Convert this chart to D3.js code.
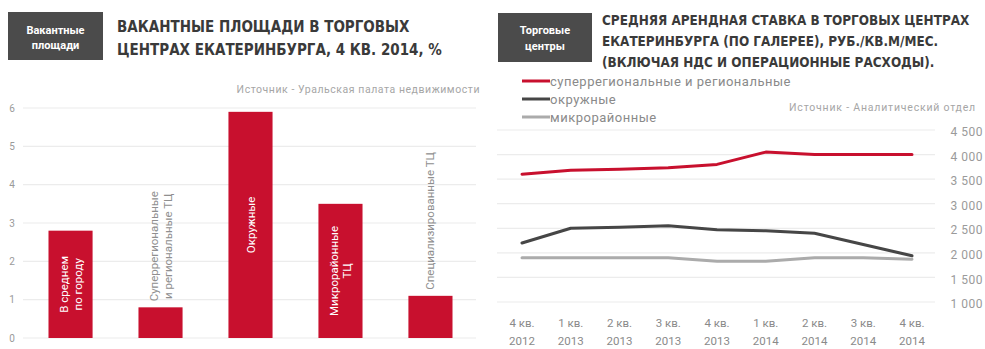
<!DOCTYPE html>
<html lang="ru">
<head>
<meta charset="utf-8">
<script src="https://cdn.jsdelivr.net/npm/d3@7"></script>
<style>
  html, body { margin: 0; padding: 0; background: #fff; }
  svg { display: block; }
  .ttl { font-family: "DejaVu Sans Condensed", "DejaVu Sans", sans-serif; font-weight: bold; fill: #3a3a3a; }
  .txt { font-family: Roboto, "Open Sans", sans-serif; }
</style>
</head>
<body>
<svg id="chart" width="985" height="349"></svg>
<script>
// ---- Vacancy in shopping centres, Q4 2014, %
const vacancyCategories = ["avg", "super", "district", "micro", "special"];
const vacancyValues = [2.8, 0.8, 5.9, 3.5, 1.1];
const vacancyLabels = [
  ["В среднем", "по городу"],
  ["Суперрегиональные", "и региональные ТЦ"],
  ["Окружные"],
  ["Микрорайонные", "ТЦ"],
  ["Специализированные ТЦ"]
];
const vacancyTicks = [0, 1, 2, 3, 4, 5, 6];

// ---- Average rent, RUB / sq.m / month
const quarters = [
  ["4 кв.", "2012"], ["1 кв.", "2013"], ["2 кв.", "2013"], ["3 кв.", "2013"], ["4 кв.", "2013"],
  ["1 кв.", "2014"], ["2 кв.", "2014"], ["3 кв.", "2014"], ["4 кв.", "2014"]
];
const rentSuperRegional = [3600, 3680, 3700, 3730, 3800, 4050, 4000, 4000, 4000];
const rentDistrict      = [2200, 2500, 2520, 2550, 2470, 2450, 2400, 2170, 1940];
const rentMicro         = [1900, 1900, 1900, 1900, 1830, 1830, 1900, 1900, 1870];
const rentSeriesNames = ["суперрегиональные и региональные", "окружные", "микрорайонные"];
const rentTicks = [1000, 1500, 2000, 2500, 3000, 3500, 4000, 4500];

const RED = "#c8102e", DARK = "#464646", LIGHT = "#ababab";
const svg = d3.select("#chart");
const spaceFmt = v => d3.format(",")(v).replace(/,/g, " ");

// ================= left panel: bars =================
const L = svg.append("g");

L.append("rect").attr("x", 8).attr("y", 12).attr("width", 95).attr("height", 48).attr("fill", "#4b4b4b");
L.append("text").attr("class", "txt").attr("x", 55.5).attr("text-anchor", "middle")
  .attr("fill", "#fff").attr("font-size", 11).attr("font-weight", "bold")
  .selectAll("tspan").data(["Вакантные", "площади"]).join("tspan")
  .attr("x", 55.5).attr("y", (d, i) => 34 + i * 15).text(d => d);

L.append("text").attr("class", "ttl").attr("font-size", 15)
  .selectAll("tspan").data(["ВАКАНТНЫЕ ПЛОЩАДИ В ТОРГОВЫХ", "ЦЕНТРАХ ЕКАТЕРИНБУРГА, 4 КВ. 2014, %"]).join("tspan")
  .attr("x", 117).attr("y", (d, i) => 32 + i * 23).text(d => d);

L.append("text").attr("class", "txt").attr("x", 480).attr("y", 93).attr("text-anchor", "end")
  .attr("font-size", 10.5).attr("letter-spacing", 0.55).attr("fill", "#a6a6a6")
  .text("Источник - Уральская палата недвижимости");

const xb = d3.scaleBand().domain(vacancyCategories).range([26, 475]).paddingInner(0.51).paddingOuter(0.25);
const yb = d3.scaleLinear().domain([0, 6]).range([338, 108]);

L.append("g").selectAll("line").data(vacancyTicks).join("line")
  .attr("x1", 23).attr("x2", 476).attr("y1", d => yb(d)).attr("y2", d => yb(d))
  .attr("stroke", "#ececec").attr("stroke-width", 1.2);

L.append("g").selectAll("text").data(vacancyTicks).join("text")
  .attr("class", "txt").attr("x", 12).attr("y", d => yb(d)).attr("dy", "0.35em")
  .attr("text-anchor", "middle").attr("font-size", 10).attr("fill", "#9a9a9a").text(d => d);

L.append("g").selectAll("rect").data(vacancyValues).join("rect")
  .attr("x", (d, i) => xb(vacancyCategories[i]))
  .attr("y", d => yb(d)).attr("width", xb.bandwidth())
  .attr("height", d => yb(0) - yb(d)).attr("fill", RED);

// bar captions, rotated to read bottom-to-top
const lineGap = 14;
vacancyValues.forEach((v, i) => {
  const cx = xb(vacancyCategories[i]) + xb.bandwidth() / 2;
  const lines = vacancyLabels[i];
  const g = L.append("g");
  const t = g.append("text").attr("class", "txt").attr("font-size", 11.5);
  lines.forEach((s, k) => {
    t.append("tspan").attr("x", 0).attr("y", (k - (lines.length - 1) / 2) * lineGap).attr("dy", "0.35em").text(s);
  });
  const len = d3.max(t.selectAll("tspan").nodes(), n => n.getComputedTextLength());
  const barTop = yb(v), barBottom = yb(0);
  const inside = (barBottom - barTop) > len + 16;
  let cy;
  if (inside) {
    cy = Math.min((barTop + barBottom) / 2, barBottom - 8 - len / 2);
    t.attr("fill", "#fff");
  } else {
    cy = barTop - 6 - len / 2;
    t.attr("fill", "#8f8f8f");
  }
  t.attr("text-anchor", "middle");
  g.attr("transform", `translate(${cx},${cy}) rotate(-90)`);
});

// ================= right panel: lines =================
const R = svg.append("g");

R.append("rect").attr("x", 498).attr("y", 13).attr("width", 94).attr("height", 49).attr("fill", "#4b4b4b");
R.append("text").attr("class", "txt").attr("text-anchor", "middle")
  .attr("fill", "#fff").attr("font-size", 11).attr("font-weight", "bold")
  .selectAll("tspan").data(["Торговые", "центры"]).join("tspan")
  .attr("x", 545).attr("y", (d, i) => 34 + i * 16).text(d => d);

R.append("text").attr("class", "ttl").attr("font-size", 13.4)
  .selectAll("tspan").data([
    "СРЕДНЯЯ АРЕНДНАЯ СТАВКА В ТОРГОВЫХ ЦЕНТРАХ",
    "ЕКАТЕРИНБУРГА (ПО ГАЛЕРЕЕ), РУБ./КВ.М/МЕС.",
    "(ВКЛЮЧАЯ НДС И ОПЕРАЦИОННЫЕ РАСХОДЫ)."
  ]).join("tspan")
  .attr("x", 602).attr("y", (d, i) => 25 + i * 21).text(d => d);

const xq = d3.scalePoint().domain(d3.range(quarters.length)).range([522, 912]);
const yr = d3.scaleLinear().domain([1000, 4500]).range([302, 130]);

R.append("g").selectAll("line").data(rentTicks).join("line")
  .attr("x1", 497).attr("x2", 935).attr("y1", d => yr(d)).attr("y2", d => yr(d))
  .attr("stroke", "#ececec").attr("stroke-width", 1.2);

R.append("g").selectAll("text").data(rentTicks).join("text")
  .attr("class", "txt").attr("x", 983).attr("y", d => yr(d) + 2).attr("dy", "0.35em")
  .attr("text-anchor", "end").attr("font-size", 12).attr("letter-spacing", 0.5)
  .attr("fill", "#9a9a9a").text(spaceFmt);

R.append("g").selectAll("text").data(quarters).join("text")
  .attr("class", "txt").attr("text-anchor", "middle").attr("font-size", 11.5).attr("fill", "#8a8a8a")
  .each(function (d, i) {
    d3.select(this).selectAll("tspan").data(d).join("tspan")
      .attr("x", xq(i)).attr("y", (s, k) => 327 + k * 18).text(s => s);
  });

R.append("text").attr("class", "txt").attr("x", 976).attr("y", 111).attr("text-anchor", "end")
  .attr("font-size", 10.5).attr("letter-spacing", 0.8).attr("fill", "#a6a6a6")
  .text("Источник - Аналитический отдел");

const series = [
  { values: rentSuperRegional, color: RED },
  { values: rentDistrict, color: DARK },
  { values: rentMicro, color: LIGHT }
];
const line = d3.line().x((d, i) => xq(i)).y(d => yr(d));
R.append("g").selectAll("path").data(series).join("path")
  .attr("d", s => line(s.values)).attr("fill", "none")
  .attr("stroke", s => s.color).attr("stroke-width", 3)
  .attr("stroke-linejoin", "round").attr("stroke-linecap", "round");

// legend
const lg = R.append("g").selectAll("g").data(series).join("g")
  .attr("transform", (d, i) => `translate(522,${81 + i * 18})`);
lg.append("line").attr("x1", 0).attr("x2", 28).attr("stroke", d => d.color).attr("stroke-width", 3);
lg.append("text").attr("class", "txt").attr("x", 28).attr("dy", "0.35em")
  .attr("font-size", 13).attr("letter-spacing", 0.5)
  .attr("fill", "#8a8a8a").text((d, i) => rentSeriesNames[i]);
</script>
</body>
</html>
